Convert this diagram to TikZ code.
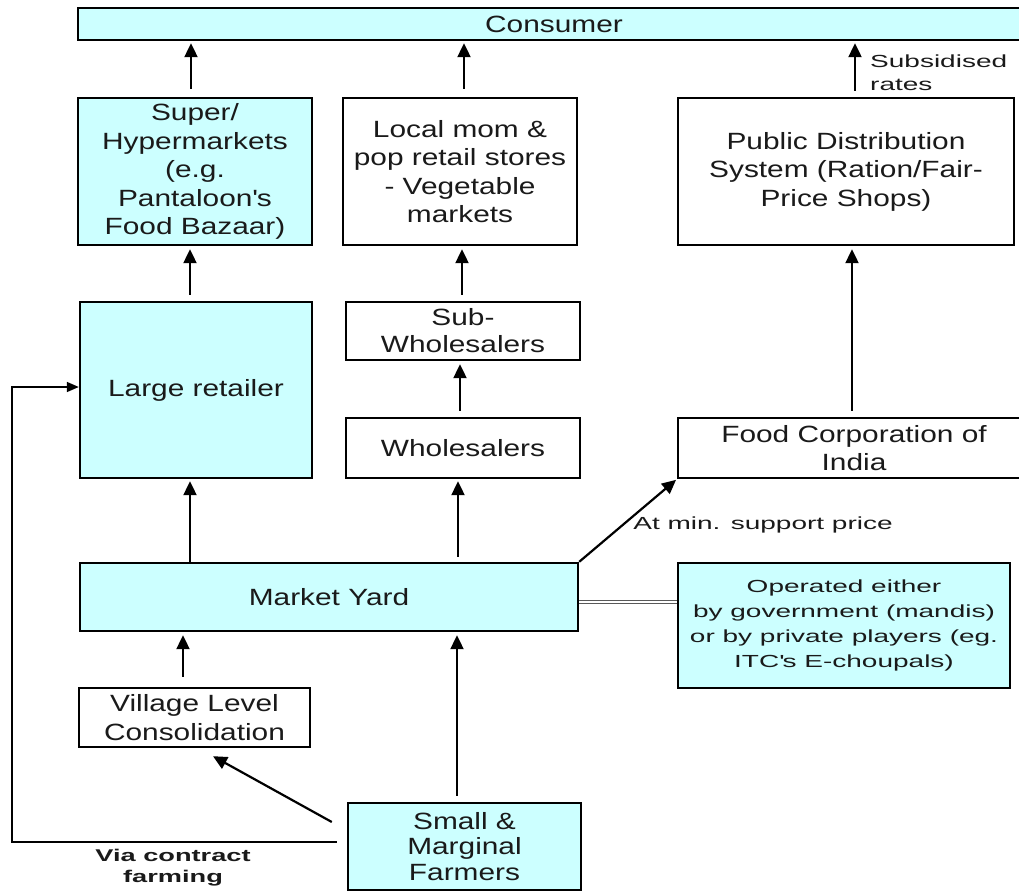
\documentclass[tikz,border=0pt]{standalone}
\usepackage{fontspec}
\setmainfont{Liberation Sans}[FakeStretch=1.27]
\newfontfamily\widefont{Liberation Sans}[FakeStretch=1.6]
\usetikzlibrary{arrows.meta}
\definecolor{boxcyan}{HTML}{CCFFFF}
\definecolor{txt}{HTML}{1A1A1A}
\begin{document}
\begin{tikzpicture}[x=1pt,y=-1pt,
 box/.style={draw=black, line width=2.4pt, inner sep=0pt, align=center, text=txt, font=\fontsize{23.5}{28.5}\selectfont},
 cbox/.style={box, fill=boxcyan},
 arr/.style={-{Triangle[width=13pt,length=14pt]}, line width=2.2pt},
 thinarr/.style={-{Triangle[width=10pt,length=12pt]}, line width=1.6pt},
 note/.style={font=\widefont\fontsize{17.5}{25}\selectfont, text=txt, inner sep=0pt},
 dbl/.style={draw=gray!70!black, double=white, double distance=2pt, line width=1pt}
]
\fill[white] (0,0) rectangle (1019,894);
\useasboundingbox (0,0) rectangle (1019,894);

% nodes
\node[cbox, minimum width=952pt, minimum height=32pt] (consumer) at (554,24) {Consumer};
\node[cbox, minimum width=234pt, minimum height=147pt] (super) at (195,171.5) {Super/\\Hypermarkets\\(e.g.\\Pantaloon\textquotesingle s\\Food Bazaar)};
\node[box, minimum width=234pt, minimum height=147pt] (local) at (460,171.5) {Local mom \&\\pop retail stores\\- Vegetable\\markets};
\node[box, minimum width=336pt, minimum height=147pt] (pds) at (846,171.5) {Public Distribution\\System (Ration/Fair-\\Price Shops)};
\node[cbox, minimum width=232pt, minimum height=176pt] (large) at (196,390) {Large retailer};
\node[box, minimum width=234pt, minimum height=58pt, font=\fontsize{23.5}{27}\selectfont] (sub) at (463,331) {Sub-\\Wholesalers};
\node[box, minimum width=234pt, minimum height=60pt] (whole) at (463,448) {Wholesalers};
\node[box, minimum width=352pt, minimum height=60pt, font=\fontsize{23.5}{28}\selectfont] (fci) at (854,448) {Food Corporation of\\India};
\node[cbox, minimum width=498pt, minimum height=68pt] (my) at (329,597) {Market Yard};
\node[cbox, line width=1.6pt, minimum width=332pt, minimum height=125pt, font=\widefont\fontsize{17.5}{25}\selectfont] (op) at (844,625.5) {Operated either\\by government (mandis)\\or by private players (eg.\\ITC\textquotesingle s E-choupals)};
\node[box, minimum width=231pt, minimum height=59pt, font=\fontsize{23.5}{29}\selectfont] (village) at (194.5,717.5) {Village Level\\Consolidation};
\node[cbox, minimum width=233pt, minimum height=87pt, font=\fontsize{23.5}{25.5}\selectfont] (farmers) at (464.5,846.5) {Small \&\\Marginal\\Farmers};

% labels
\node[note, align=left, anchor=west, font=\widefont\fontsize{17.5}{23}\selectfont] (subs) at (870,73) {Subsidised\\rates};
\node[note] (msp) at (763,525) {At min. support price};
\node[note, align=center, font=\widefont\bfseries\fontsize{17}{21}\selectfont] (via) at (173,868) {Via contract\\farming};

% connector end points
\coordinate (a1) at ([xshift=-4pt]super.north);
\coordinate (a2) at ([xshift=4pt]local.north);
\coordinate (a3) at ([xshift=9pt]pds.north);
\coordinate (a4) at ([xshift=-6pt]large.north);
\coordinate (a5) at ([xshift=-1pt]sub.north);
\coordinate (a6) at ([xshift=-3pt]whole.north);
\coordinate (a7) at ([xshift=-2pt]fci.north);
\coordinate (a8) at ([xshift=-6pt]large.south);
\coordinate (a9) at ([xshift=-5pt]whole.south);
\coordinate (d1) at ([yshift=-5pt]my.east);
\coordinate (a12) at ([xshift=-11.5pt]village.north);
\coordinate (a13) at ([xshift=-7.5pt]farmers.north);
\coordinate (f1) at ([shift={(-15,-24.5)}]farmers.west);
\coordinate (v1) at ([shift={(18.5,8)}]village.south);
\coordinate (c0) at ([shift={(-10,-4.5)}]farmers.west);
\coordinate (c1) at (12,842);
\coordinate (c2) at ([yshift=3pt]large.west);

% connectors
\draw[arr, shorten <=8pt, shorten >=2pt] (a1) -- (a1 |- consumer.south);
\draw[arr, shorten <=8pt, shorten >=2pt] (a2) -- (a2 |- consumer.south);
\draw[arr, shorten <=6pt, shorten >=2pt] (a3) -- (a3 |- consumer.south);
\draw[arr, shorten <=6pt, shorten >=3pt] (a4) -- (a4 |- super.south);
\draw[arr, shorten <=6pt, shorten >=3pt] (a5) -- (a5 |- local.south);
\draw[arr, shorten <=6pt, shorten >=3pt] (a6) -- (a6 |- sub.south);
\draw[arr, shorten <=6pt, shorten >=3pt] (a7) -- (a7 |- pds.south);
\draw[arr, shorten >=2pt] (a8 |- my.north) -- (a8);
\draw[arr, shorten <=5pt, shorten >=2pt] (a9 |- my.north) -- (a9);
\draw[arr, shorten >=1pt] (my.north east) -- (fci.south west);
\draw[dbl] (d1) -- (d1 -| op.west);
\draw[arr, shorten <=10pt, shorten >=3pt] (a12) -- (a12 |- my.south);
\draw[arr, shorten <=6pt, shorten >=3pt] (a13) -- (a13 |- my.south);
\draw[arr] (f1) -- (v1);
\draw[thinarr] (c0) -- (c1) |- (c2);
\end{tikzpicture}
\end{document}
